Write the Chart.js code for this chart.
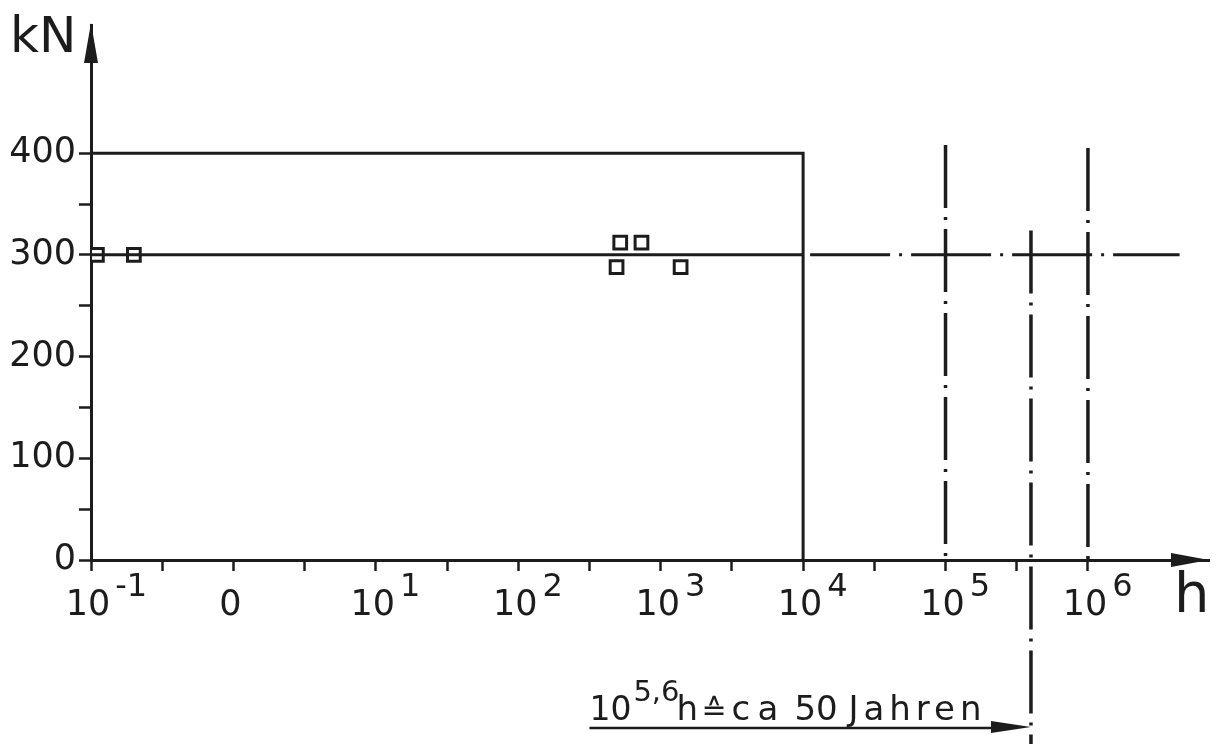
<!DOCTYPE html>
<html>
<head>
<meta charset="utf-8">
<script src="https://cdn.jsdelivr.net/npm/chart.js@4"></script>
<style>
  html, body { margin: 0; padding: 0; background: #fff; }
  canvas { display: block; }
</style>
</head>
<body>
<canvas id="grafik" width="1221" height="744"></canvas>
<script>
// --- data ---
// x axis: hours, logarithmic; y axis: load in kN
const decadeTicks = [0.1, 1, 10, 100, 1000, 1e4, 1e5, 1e6];
const decadeBase = ['10', '0', '10', '10', '10', '10', '10', '10'];
const decadeExp = ['-1', '', '1', '2', '3', '4', '5', '6'];
const halfDecadeTicks = [0.316, 3.16, 31.6, 316, 3162, 31623, 316228];
const loadTicks = [0, 50, 100, 150, 200, 250, 300, 350, 400];

// short-time strength (solid step)
const stepHours = [0.1, 1e4, 1e4];
const stepLoad = [400, 400, 0];

// 300 kN line, solid part and dash-dot extension
const refHours = [0.1, 1e4];
const refLoad = [300, 300];
const extHours = [1e4, 4.4e6];
const extLoad = [300, 300];

// test results (squares)
const testHours = [0.11, 0.2, 490, 520, 733, 1380];
const testLoad = [300, 300, 288, 312, 312, 288];

// dash-dot life lines: 10^5 h, 10^5.6 h (~50 Jahre), 10^6 h
const lifeHours = [1e5, 398107, 1e6];
const lifeTop = [408, 324, 405];
const lifeBottom = [0, -181, 0];

// annotation arrow start (h)
const annotStart = 316;

const ink = '#1c1c1c';
const fontFam = '"DejaVu Sans", sans-serif';

function pts(xs, ys) {
    return xs.map((v, i) => ({ x: v, y: ys[i] }));
}

const lineBase = {
    showLine: true,
    borderColor: ink,
    borderWidth: 3,
    pointRadius: 0,
    fill: false,
    tension: 0
};

const datasets = [
    { ...lineBase, data: pts(stepHours, stepLoad) },
    { ...lineBase, data: pts(refHours, refLoad) },
    { ...lineBase, data: pts(extHours, extLoad), borderDash: [80, 9, 3, 9], borderDashOffset: 94 }
];

lifeHours.forEach((h, i) => {
    datasets.push({
        ...lineBase,
        borderWidth: 3.5,
        borderDash: [63, 9, 3, 9],
        clip: false,
        data: [{ x: h, y: lifeTop[i] }, { x: h, y: lifeBottom[i] }]
    });
});

// squares with a dot in the middle
datasets.push({
    data: pts(testHours, testLoad),
    showLine: false,
    pointStyle: 'rect',
    pointRadius: 9,
    borderWidth: 3,
    borderColor: ink,
    backgroundColor: '#fff'
});
datasets.push({
    data: pts(testHours, testLoad),
    showLine: false,
    pointStyle: 'circle',
    pointRadius: 1.6,
    borderWidth: 0,
    backgroundColor: ink
});

// background, arrows and texts that the axes cannot draw themselves
const zeichnung = {
    id: 'zeichnung',
    beforeDraw(chart) {
        const { ctx } = chart;
        ctx.save();
        ctx.fillStyle = '#fff';
        ctx.fillRect(0, 0, chart.width, chart.height);
        ctx.restore();
    },
    afterDraw(chart) {
        const { ctx, chartArea: a, scales: { x } } = chart;
        ctx.save();
        ctx.fillStyle = ink;
        ctx.strokeStyle = ink;

        // axis arrows
        ctx.beginPath();
        ctx.moveTo(a.left, a.top - 2);
        ctx.lineTo(a.left - 7, a.top + 38);
        ctx.lineTo(a.left + 7, a.top + 38);
        ctx.closePath();
        ctx.fill();

        ctx.beginPath();
        ctx.moveTo(a.right, a.bottom);
        ctx.lineTo(a.right - 38, a.bottom - 7);
        ctx.lineTo(a.right - 38, a.bottom + 7);
        ctx.closePath();
        ctx.fill();

        // axis titles
        ctx.textBaseline = 'alphabetic';
        ctx.textAlign = 'left';
        ctx.font = `50px ${fontFam}`;
        ctx.fillText('kN', 10, 52);
        ctx.font = `56px ${fontFam}`;
        ctx.fillText('h', 1174, 612);

        // x tick labels with exponents
        decadeTicks.forEach((v, i) => {
            const px = x.getPixelForValue(v) - 3;
            ctx.font = `35px ${fontFam}`;
            ctx.textAlign = 'center';
            ctx.fillText(decadeBase[i], px, 615);
            if (decadeExp[i]) {
                const w = ctx.measureText(decadeBase[i]).width;
                ctx.font = `32px ${fontFam}`;
                ctx.textAlign = 'left';
                ctx.fillText(decadeExp[i], px + w / 2 + 5, 596);
            }
        });

        // annotation: 10^5,6 h = ca 50 Jahren
        const x0 = x.getPixelForValue(annotStart);
        const x1 = x.getPixelForValue(lifeHours[1]);
        const yArrow = 728;
        ctx.lineWidth = 2.5;
        ctx.beginPath();
        ctx.moveTo(x0, yArrow);
        ctx.lineTo(x1 - 30, yArrow);
        ctx.stroke();
        ctx.beginPath();
        ctx.moveTo(x1, yArrow - 1);
        ctx.lineTo(x1 - 40, yArrow - 7);
        ctx.lineTo(x1 - 40, yArrow + 5);
        ctx.closePath();
        ctx.fill();

        ctx.textAlign = 'left';
        ctx.font = `33px ${fontFam}`;
        ctx.fillText('10', x0, 720);
        const w10 = ctx.measureText('10').width;
        ctx.font = `29px ${fontFam}`;
        ctx.fillText('5,6', x0 + w10 + 2, 701);
        ctx.font = `34px ${fontFam}`;
        ctx.fillText('h', x0 + 87, 720);
        ctx.font = `30px ${fontFam}`;
        ctx.fillText('\u2259', x0 + 112, 720);
        ctx.font = `34px ${fontFam}`;
        ctx.fillText('c', x0 + 142, 720);
        ctx.fillText('a', x0 + 168, 720);
        ctx.fillText('50', x0 + 205, 720);
        ctx.letterSpacing = '5px';
        ctx.fillText('Jahren', x0 + 259, 720);
        ctx.restore();
    }
};

new Chart(document.getElementById('grafik'), {
    type: 'scatter',
    data: { datasets: datasets },
    plugins: [zeichnung],
    options: {
        responsive: false,
        animation: false,
        devicePixelRatio: 1,
        layout: { padding: { top: 25, right: 6, left: 0, bottom: 0 } },
        plugins: {
            legend: { display: false },
            tooltip: { enabled: false }
        },
        scales: {
            x: {
                type: 'logarithmic',
                min: 0.1,
                max: Math.pow(10, 6.85),
                afterBuildTicks: (scale) => {
                    scale.ticks = decadeTicks.concat(halfDecadeTicks)
                        .sort((p, q) => p - q)
                        .map(v => ({ value: v }));
                },
                afterFit: (scale) => { scale.height = 184; },
                ticks: { display: false },
                grid: {
                    drawOnChartArea: false,
                    tickLength: 11,
                    tickWidth: 2.5,
                    tickColor: ink
                },
                border: { color: ink, width: 3 }
            },
            y: {
                min: 0,
                max: 526,
                afterBuildTicks: (scale) => {
                    scale.ticks = loadTicks.map(v => ({ value: v }));
                },
                afterFit: (scale) => { scale.width = 91; },
                ticks: {
                    padding: 3,
                    color: ink,
                    font: { family: fontFam, size: 35 },
                    callback: (v) => (v % 100 === 0 ? String(v) : '')
                },
                grid: {
                    drawOnChartArea: false,
                    tickLength: 12,
                    tickWidth: 2.5,
                    tickColor: ink
                },
                border: { color: ink, width: 3 }
            }
        }
    }
});
</script>
</body>
</html>
